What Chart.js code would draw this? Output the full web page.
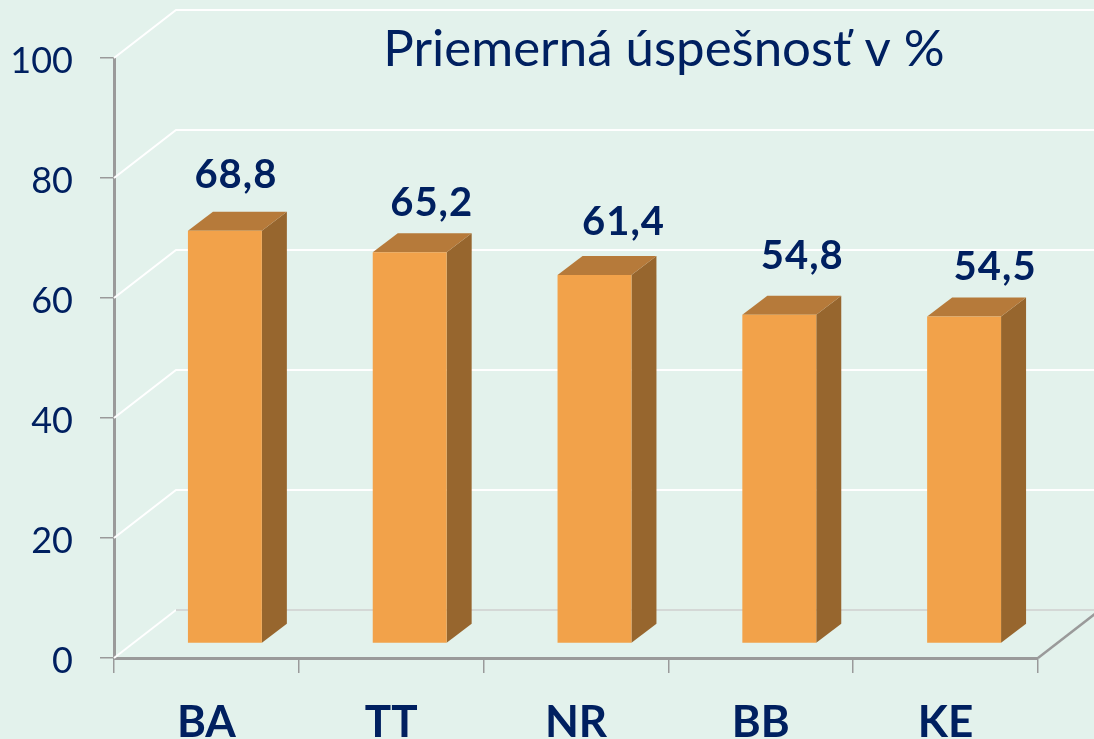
<!DOCTYPE html>
<html><head><meta charset="utf-8">
<style>html,body{margin:0;padding:0;background:#E3F2EC;overflow:hidden}canvas{display:block}</style>
<script src="https://cdn.jsdelivr.net/npm/chart.js@4/dist/chart.umd.min.js"></script>
</head><body><canvas id="c" width="1094" height="739"></canvas>
<script>
const categories = ["BA","TT","NR","BB","KE"];
const values = [68.8,65.2,61.4,54.8,54.5];
const valueLabels = ["68,8","65,2","61,4","54,8","54,5"];
const titleText = "Priemerná úspešnosť v %";
const yTicks = [0,20,40,60,80,100];

const ink="#002060", front="#F2A24A", topFace="#B67A3A", sideFace="#97662E";
const FONT='Lato, "Noto Sans", sans-serif';
const wall={dx:62,dy:-48}, barShift={dx:18.5,dy:-14.5}, barDepth={dx:25,dy:-19};
const labelNudge=[[11,-56],[22,-49],[29,-53],[23,-59],[31,-49]];

function line(ctx,pts,color,w){ctx.beginPath();pts.forEach((p,i)=>i?ctx.lineTo(p[0],p[1]):ctx.moveTo(p[0],p[1]));ctx.strokeStyle=color;ctx.lineWidth=w;ctx.stroke();}
function poly(ctx,pts,color){ctx.beginPath();pts.forEach((p,i)=>i?ctx.lineTo(p[0],p[1]):ctx.moveTo(p[0],p[1]));ctx.closePath();ctx.fillStyle=color;ctx.fill();}

const bg={id:'bg',beforeDraw(c){const x=c.ctx;x.save();x.fillStyle="#E3F2EC";x.fillRect(0,0,c.width,c.height);x.restore();}};
const scene={id:'scene',
 beforeDatasetsDraw(c){
  const ctx=c.ctx,{left,right}=c.chartArea,ys=c.scales.y;
  ctx.save();
  yTicks.forEach(v=>{
   const y=ys.getPixelForValue(v);
   if(v===0){
     line(ctx,[[left,y],[left+wall.dx,y+wall.dy]],"#FFFFFF",2);
     line(ctx,[[left+wall.dx,y+wall.dy],[right+wall.dx,y+wall.dy]],"#D4D8D6",2);
     line(ctx,[[right,y],[right+wall.dx,y+wall.dy]],"#9A9A9A",2.5);
   } else {
     line(ctx,[[left,y],[left+wall.dx,y+wall.dy],[right+wall.dx,y+wall.dy]],"#FFFFFF",2);
   }
  });
  ctx.restore();
  ctx.save();
  ctx.translate(barShift.dx,barShift.dy);
  c.getDatasetMeta(0).data.forEach(b=>{
   const l=b.x-b.width/2,r=b.x+b.width/2,t=b.y,bt=b.base,d=barDepth;
   poly(ctx,[[r,t],[r+d.dx,t+d.dy],[r+d.dx,bt+d.dy],[r,bt]],sideFace);
   poly(ctx,[[l,t],[l+d.dx,t+d.dy],[r+d.dx,t+d.dy],[r,t]],topFace);
  });
 },
 afterDatasetsDraw(c){
  const ctx=c.ctx;
  ctx.restore();
  ctx.save();
  ctx.fillStyle=ink;ctx.textAlign="center";ctx.textBaseline="middle";
  ctx.font='bold 40px '+FONT;
  c.getDatasetMeta(0).data.forEach((b,i)=>{
   const n=labelNudge[i];
   ctx.letterSpacing="1px";
   ctx.fillText(valueLabels[i],b.x+barShift.dx+n[0],b.y+barShift.dy+n[1]);
  });
  ctx.letterSpacing="0px";
  ctx.font='51px '+FONT;
  ctx.fillText(titleText,664,50);
  ctx.restore();
 }};

new Chart(document.getElementById('c'),{
 type:'bar',
 data:{labels:categories,datasets:[{data:values,backgroundColor:front,borderWidth:0,barPercentage:0.4,categoryPercentage:1}]},
 plugins:[bg,scene],
 options:{
  responsive:false,animation:false,
  layout:{padding:{top:58,right:56,left:0,bottom:0}},
  plugins:{legend:{display:false},tooltip:{enabled:false},title:{display:false}},
  scales:{
   x:{
    afterFit(s){s.height=81;},
    grid:{display:true,drawOnChartArea:false,color:"#9A9A9A",lineWidth:1.5,tickLength:15},
    border:{display:true,color:"#9A9A9A",width:3},
    ticks:{color:ink,font:{family:FONT,size:44,weight:'bold'},padding:23,maxRotation:0}
   },
   y:{
    min:0,max:100,
    afterFit(s){s.width=114;},
    afterBuildTicks(s){s.ticks=yTicks.map(v=>({value:v}));},
    grid:{display:true,drawOnChartArea:false,color:"#9A9A9A",lineWidth:1.5,tickLength:14},
    border:{display:true,color:"#9A9A9A",width:3},
    ticks:{color:ink,font:{family:FONT,size:36},padding:27,labelOffset:3}
   }
  }
 }
});
</script></body></html>
